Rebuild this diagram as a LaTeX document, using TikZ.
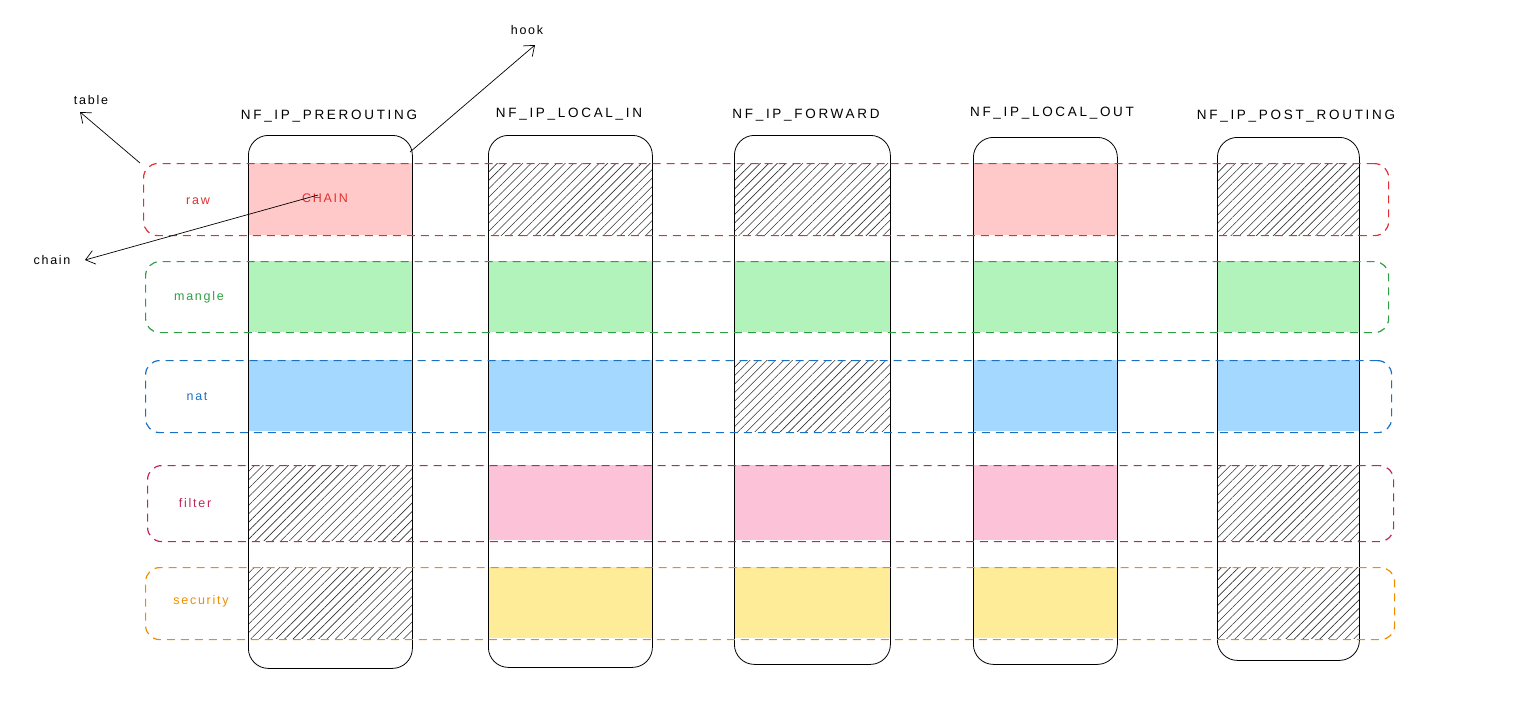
\documentclass[tikz,border=0pt]{standalone}
\usepackage{fontspec}
\setmainfont{Liberation Sans}
\newfontfamily\hdrfont[LetterSpace=20]{Liberation Sans}
\newfontfamily\lblfont[LetterSpace=14]{Liberation Sans}
\usetikzlibrary{patterns.meta,arrows.meta}
\definecolor{cred}{HTML}{E03131}\definecolor{cgreen}{HTML}{2F9E44}
\definecolor{cblue}{HTML}{1971C2}\definecolor{cfil}{HTML}{C2255C}
\definecolor{corg}{HTML}{F08C00}
\definecolor{fred}{HTML}{FFC9C9}\definecolor{fgreen}{HTML}{B2F2BB}
\definecolor{fblue}{HTML}{A5D8FF}\definecolor{fpink}{HTML}{FCC2D7}
\definecolor{fyel}{HTML}{FFEC99}
\tikzset{
 col/.style={draw=black,line width=0.8pt,rounded corners=20pt},
 row/.style={draw=#1,dash pattern=on 8pt off 6pt,line width=1.2pt,rounded corners=14pt},
 hatch/.style={pattern={Lines[angle=45,distance=6pt,line width=0.6pt]},pattern color=black!80},
 lbl/.style={font=\lblfont\fontsize{12.5}{14}\selectfont,text=#1},
 hdr/.style={font=\hdrfont\fontsize{13.5}{15}\selectfont},
 arr/.style={-{Straight Barb[length=9pt,width=14pt]},line width=0.7pt}
}
\begin{document}
\begin{tikzpicture}[x=1pt,y=-1pt]
\useasboundingbox (0,0) rectangle (1513,720);
\def\cols{248/412,488/652,734/890,973/1117,1217/1359}
\newcommand{\cell}[5]{\fill[#5] (#1,#3) rectangle (#2,#4);}
% raw
\cell{248}{412}{163}{235}{fred}
\cell{488}{652}{163}{235}{hatch}
\cell{734}{890}{163}{235}{hatch}
\cell{973}{1117}{163}{235}{fred}
\cell{1217}{1359}{163}{235}{hatch}
% mangle
\foreach \a/\b in \cols {\fill[fgreen] (\a,261) rectangle (\b,332);}
% nat
\foreach \a/\b in {248/412,488/652,973/1117,1217/1359} {\fill[fblue] (\a,360) rectangle (\b,431);}
\cell{734}{890}{360}{431}{hatch}
% filter
\cell{248}{412}{465}{540}{hatch}
\foreach \a/\b in {488/652,734/890,973/1117} {\fill[fpink] (\a,465) rectangle (\b,540);}
\cell{1217}{1359}{465}{540}{hatch}
% security
\cell{248}{412}{567}{638}{hatch}
\foreach \a/\b in {488/652,734/890,973/1117} {\fill[fyel] (\a,567) rectangle (\b,638);}
\cell{1217}{1359}{567}{638}{hatch}
% columns
\node[col,minimum width=164pt,minimum height=533pt,anchor=north west] (c1) at (248,135) {};
\node[col,minimum width=164pt,minimum height=532pt,anchor=north west] (c2) at (488,135) {};
\node[col,minimum width=156pt,minimum height=529pt,anchor=north west] (c3) at (734,135) {};
\node[col,minimum width=144pt,minimum height=527pt,anchor=north west] (c4) at (973,137) {};
\node[col,minimum width=142pt,minimum height=523pt,anchor=north west] (c5) at (1217,137) {};
% rows
\node[row=cred,minimum width=1245pt,minimum height=72pt,anchor=north west] (rraw) at (143,163) {};
\node[row=cgreen,minimum width=1243pt,minimum height=71pt,anchor=north west] (rmangle) at (145,261) {};
\node[row=cblue,minimum width=1246pt,minimum height=72pt,anchor=north west] (rnat) at (145,360) {};
\node[row=cfil,minimum width=1246pt,minimum height=76pt,anchor=north west] (rfilter) at (147,465) {};
\node[row=corg,minimum width=1249pt,minimum height=72pt,anchor=north west] (rsec) at (145,567) {};
% row labels
\node[lbl=cred] (lraw) at (198,201) {raw};
\node[lbl=cgreen] (lmangle) at (199,297) {mangle};
\node[lbl=cblue] (lnat) at (197,397) {nat};
\node[lbl=cfil] (lfilter) at (195,503) {filter};
\node[lbl=corg] (lsec) at (201,601) {security};
\node[lbl=cred] (chainlbl) at (325,198) {CHAIN};
% headers
\node[hdr] (h1) at (329,116) {NF\_IP\_PREROUTING};
\node[hdr] (h2) at (569,114) {NF\_IP\_LOCAL\_IN};
\node[hdr] (h3) at (806,115) {NF\_IP\_FORWARD};
\node[hdr] (h4) at (1052,113) {NF\_IP\_LOCAL\_OUT};
\node[hdr] (h5) at (1296,116) {NF\_IP\_POST\_ROUTING};
% annotations
\node[lbl=black] (ttable) at (91,100) {table};
\node[lbl=black] (thook) at (527,30) {hook};
\node[lbl=black] (tchain) at (52,260) {chain};
\coordinate (stable) at (140,163);
\coordinate (etable) at (80,112);
\coordinate (shook) at (410,152);
\coordinate (ehook) at (535,45);
\coordinate (schain) at (318,195);
\coordinate (echain) at (85,260);
\draw[arr] (stable) -- (etable);
\draw[arr] (shook) -- (ehook);
\draw[arr] (schain) -- (echain);
\end{tikzpicture}
\end{document}
